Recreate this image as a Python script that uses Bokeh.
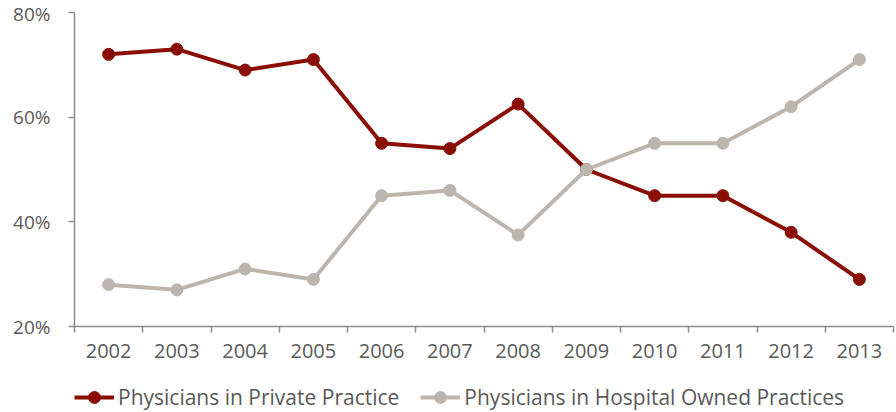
from bokeh.plotting import figure
from bokeh.models import FixedTicker, Range1d, Legend, LegendItem, ColumnDataSource
from bokeh.layouts import column
from bokeh.embed import file_html
from bokeh.resources import INLINE

years = ["2002", "2003", "2004", "2005", "2006", "2007", "2008", "2009", "2010", "2011", "2012", "2013"]
private = [72, 73, 69, 71, 55, 54, 62.5, 50, 45, 45, 38, 29]
hospital = [28, 27, 31, 29, 45, 46, 37.5, 50, 55, 55, 62, 71]
y_ticks = [20, 40, 60, 80]
series_names = ["Physicians in Private Practice", "Physicians in Hospital Owned Practices"]

FONT = "Open Sans"
TXT = "#595959"
AX = "#8c8c8c"
RED = "#8b0e04"
GREY = "#bcb5ae"

xs = [i + 0.5 for i in range(len(years))]
src = ColumnDataSource(dict(x=xs, private=private, hospital=hospital))

p = figure(width=896, height=370, output_backend="svg", toolbar_location=None,
           x_range=Range1d(0, len(years)), y_range=Range1d(20, 80),
           min_border_left=74, min_border_right=3, min_border_top=12, min_border_bottom=44)
p.outline_line_color = None
p.xgrid.grid_line_color = None
p.ygrid.grid_line_color = None

p.line("x", "private", source=src, line_color=RED, line_width=4)
p.scatter("x", "private", source=src, size=12, fill_color=RED, line_color=RED)
p.line("x", "hospital", source=src, line_color=GREY, line_width=4)
p.scatter("x", "hospital", source=src, size=12, fill_color=GREY, line_color=GREY)

p.xaxis.ticker = FixedTicker(ticks=xs, minor_ticks=list(range(len(years) + 1)))
p.xaxis.major_label_overrides = {x: y for x, y in zip(xs, years)}
p.xaxis.major_tick_out = 0
p.xaxis.major_tick_in = 0
p.xaxis.minor_tick_in = 0
p.xaxis.minor_tick_out = 6
p.xaxis.minor_tick_line_color = AX
p.xaxis.minor_tick_line_width = 1.5
p.xaxis.axis_line_color = AX
p.xaxis.axis_line_width = 1.5
p.xaxis.major_label_standoff = 11
p.xaxis.major_label_text_font_size = "20px"

p.yaxis.ticker = FixedTicker(ticks=y_ticks)
p.yaxis.major_label_overrides = {v: f"{v}%" for v in y_ticks}
p.yaxis.major_tick_out = 6
p.yaxis.major_tick_in = 0
p.yaxis.minor_tick_line_color = None
p.yaxis.axis_line_color = AX
p.yaxis.axis_line_width = 1.5
p.yaxis.major_tick_line_color = AX
p.yaxis.major_tick_line_width = 1.5
p.yaxis.major_label_standoff = 18
p.yaxis.major_label_text_font_size = "19px"

for ax in (p.xaxis, p.yaxis):
    ax.major_label_text_font = FONT
    ax.major_label_text_color = TXT

# legend strip (series drawn out of view; only the legend shows)
lg = figure(width=896, height=42, output_backend="svg", toolbar_location=None,
            x_range=Range1d(1000, 1001), y_range=Range1d(1000, 1001),
            x_axis_location=None, y_axis_location=None,
            min_border_left=74, min_border_right=3, min_border_top=0, min_border_bottom=0)
lg.xgrid.grid_line_color = None
lg.ygrid.grid_line_color = None
lg.outline_line_color = None
r1l = lg.line("x", "private", source=src, line_color=RED, line_width=4)
r1c = lg.scatter("x", "private", source=src, size=12, fill_color=RED, line_color=RED)
r2l = lg.line("x", "hospital", source=src, line_color=GREY, line_width=4)
r2c = lg.scatter("x", "hospital", source=src, size=12, fill_color=GREY, line_color=GREY)

legend = Legend(items=[LegendItem(label=series_names[0], renderers=[r1l, r1c]),
                       LegendItem(label=series_names[1], renderers=[r2l, r2c])],
                orientation="horizontal", location=(0, 0),
                label_text_font=FONT, label_text_font_size="21px", label_text_color=TXT,
                glyph_width=40, glyph_height=30, spacing=21, padding=0, margin=0,
                border_line_color=None, background_fill_alpha=0, label_standoff=4)
lg.add_layout(legend, "center")

open("out.html", "w").write(file_html(column(p, lg, spacing=0), INLINE))
